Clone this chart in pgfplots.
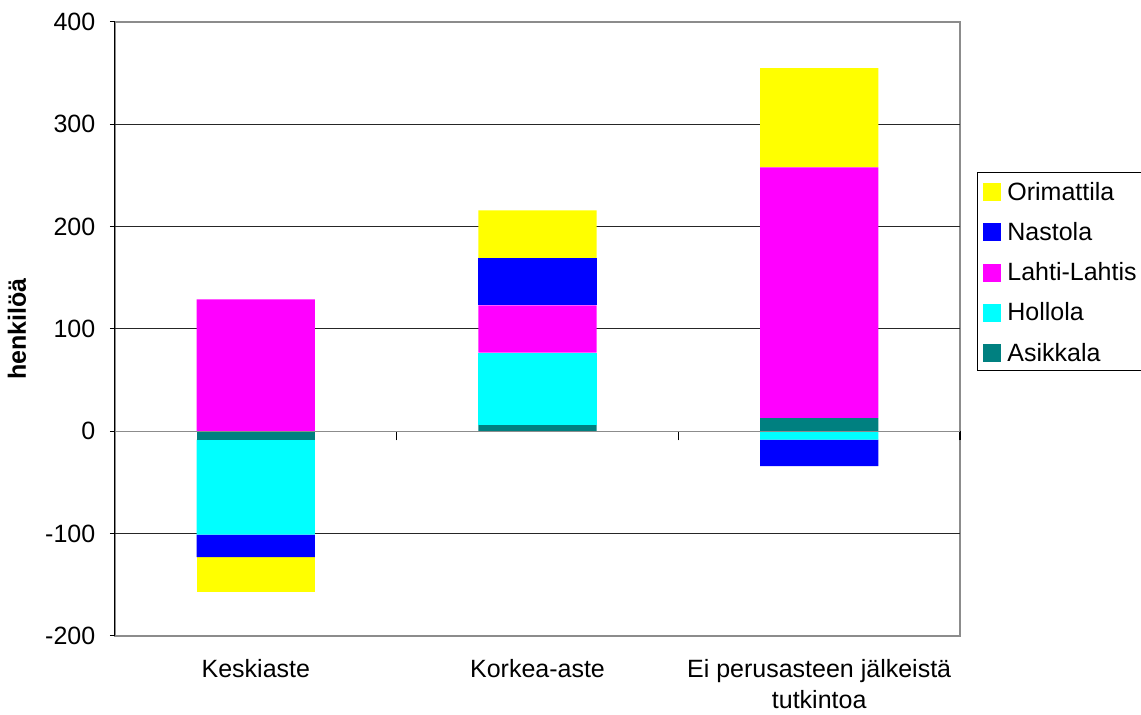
\documentclass[border=0pt]{standalone}
\usepackage{fontspec}
\setmainfont{Liberation Sans}
\usepackage{pgfplots}
\pgfplotsset{compat=1.18}
\definecolor{cOri}{HTML}{FFFF00}
\definecolor{cNas}{HTML}{0000FF}
\definecolor{cLah}{HTML}{FF00FF}
\definecolor{cHol}{HTML}{00FFFF}
\definecolor{cAsi}{HTML}{008080}
\newcommand\cf{\fontsize{12.5}{15.5}\selectfont}
\pgfplotsset{common/.style={width=422.5pt,height=307pt,scale only axis,
  xmin=-0.5,xmax=2.5,ymin=-200,ymax=400, ybar stacked, bar width=0.42,
  enlargelimits=false}}
\begin{document}
\cf
\begin{tikzpicture}[font=\cf]
\begin{axis}[common, name=ax,
 axis y line*=left, axis x line*=bottom,
 x axis line style={draw=none}, y axis line style={-, black, line width=0.5pt},
 axis background/.style={draw=gray!90, line width=0.8pt},
 ytick={-200,-100,...,400}, yticklabels={-200,-100,0,100,200,300,400},
 tick align=outside, major tick length=2.5pt,
 ytick style={black, line width=0.5pt},
 xtick={0,1,2}, xticklabels={Keskiaste,Korkea-aste,{Ei perusasteen jälkeistä\\tutkintoa}},
 xtick style={draw=none},
 xticklabel style={align=center, yshift=-5pt},
 yticklabel style={xshift=-3pt},
 extra y ticks={-100,0,100,200,300}, extra y tick labels={},
 extra y tick style={grid=major, tick style={draw=none}},
 major grid style={black!85, line width=0.5pt},
 ylabel={\bfseries henkilöä},
 ylabel style={at={(axis description cs:-0.116,0.5)}, anchor=center},
 reverse legend,
 legend style={at={(1.02,0.755)}, anchor=north west, draw=black, line width=0.5pt,
   inner xsep=3pt, inner ysep=3.5pt, row sep=8.9pt,
   nodes={inner xsep=0.5pt, inner ysep=1pt, text height=9.2pt, text depth=0pt}, font=\cf,
   /tikz/every odd column/.append style={column sep=2.5pt}},
 legend cell align=left,
 legend image code/.code={\fill[#1] (0pt,-5pt) rectangle (9pt,4pt);},
]
\addplot[fill=cAsi, draw=none] coordinates {(0,0) (1,6) (2,13)}; \addlegendentry{Asikkala}
\addplot[fill=cHol, draw=none] coordinates {(0,0) (1,71) (2,0)}; \addlegendentry{Hollola}
\addplot[fill=cLah, draw=none] coordinates {(0,129) (1,46) (2,245)}; \addlegendentry{Lahti-Lahtis}
\addplot[fill=cNas, draw=none] coordinates {(0,0) (1,46) (2,0)}; \addlegendentry{Nastola}
\addplot[fill=cOri, draw=none] coordinates {(0,0) (1,47) (2,97)}; \addlegendentry{Orimattila}
\end{axis}
\begin{axis}[common, axis on top, axis y line=none, axis x line=middle,
 x axis line style={-, gray!90, line width=0.8pt},
 xtick={0.5,1.5,2.5}, xticklabels={}, tick align=center, major tick length=4.5pt,
 xtick style={black, line width=0.6pt, yshift=-2.25pt}]
\addplot[fill=cAsi, draw=none] coordinates {(0,-8) (1,0) (2,0)};
\addplot[fill=cHol, draw=none] coordinates {(0,-93) (1,0) (2,-8)};
\addplot[fill=cNas, draw=none] coordinates {(0,-22) (1,0) (2,-26)};
\addplot[fill=cOri, draw=none] coordinates {(0,-34) (1,0) (2,0)};
\end{axis}
\pgfresetboundingbox
\path ([shift={(-57.5pt,-39.5pt)}]ax.south west) rectangle ([shift={(90.5pt,11pt)}]ax.north east);
\end{tikzpicture}
\end{document}
